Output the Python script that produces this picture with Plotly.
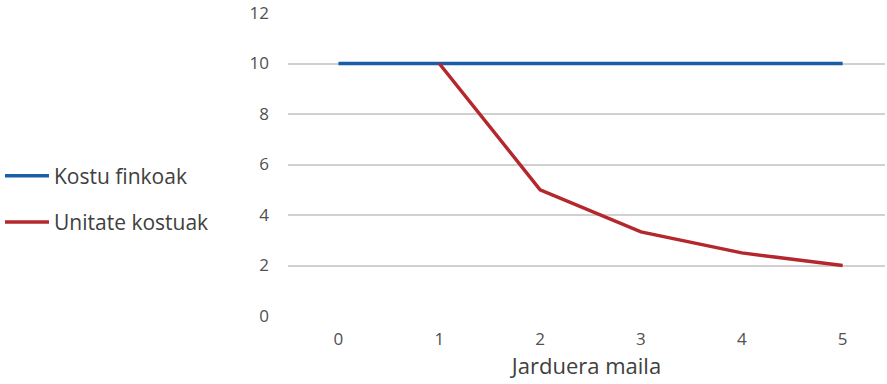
import plotly.graph_objects as go

# Activity level (x categories) and cost series
jarduera_maila = [0, 1, 2, 3, 4, 5]
kostu_finkoak = [10, 10, 10, 10, 10, 10]
unitate_kostuak = [None, 10, 5, 3.33, 2.5, 2]

y_ticks = [0, 2, 4, 6, 8, 10, 12]

fig = go.Figure()
fig.add_trace(go.Scatter(
    x=jarduera_maila, y=kostu_finkoak, mode="lines", name="Kostu finkoak",
    line=dict(color="#1A5EA8", width=3.5), legendgroup="a",
))
fig.add_trace(go.Scatter(
    x=jarduera_maila, y=unitate_kostuak, mode="lines", name="Unitate kostuak",
    line=dict(color="#B3272D", width=3.5), legendgroup="b",
))

font_family = "Open Sans, Liberation Sans, sans-serif"

fig.update_layout(
    width=887, height=384,
    margin=dict(l=288, r=2, t=13, b=68),
    paper_bgcolor="white", plot_bgcolor="white",
    font=dict(family=font_family, color="#595959"),
    showlegend=True,
    legend=dict(
        xref="container", yref="container", x=0.0, y=0.595,
        xanchor="left", yanchor="top",
        font=dict(size=21, color="#404040"),
        tracegroupgap=16, itemwidth=44,
        bgcolor="rgba(0,0,0,0)",
    ),
    xaxis=dict(
        type="linear", range=[-0.5, 5.42],
        tickmode="array", tickvals=jarduera_maila,
        ticktext=[str(v) for v in jarduera_maila],
        showgrid=False, zeroline=False, showline=False,
        tickfont=dict(size=17, color="#505050"),
        ticks="", ticklabelstandoff=11,
        title=dict(text="Jarduera maila", font=dict(size=22, color="#404040"), standoff=8),
    ),
    yaxis=dict(
        range=[0, 12], tickmode="array", tickvals=y_ticks,
        showgrid=True, gridcolor="#D0D0D0", gridwidth=1.5,
        zeroline=False, showline=False,
        tickfont=dict(size=17, color="#505050"),
        ticks="", ticklabelstandoff=18,
    ),
)

fig.write_html("out.html")
